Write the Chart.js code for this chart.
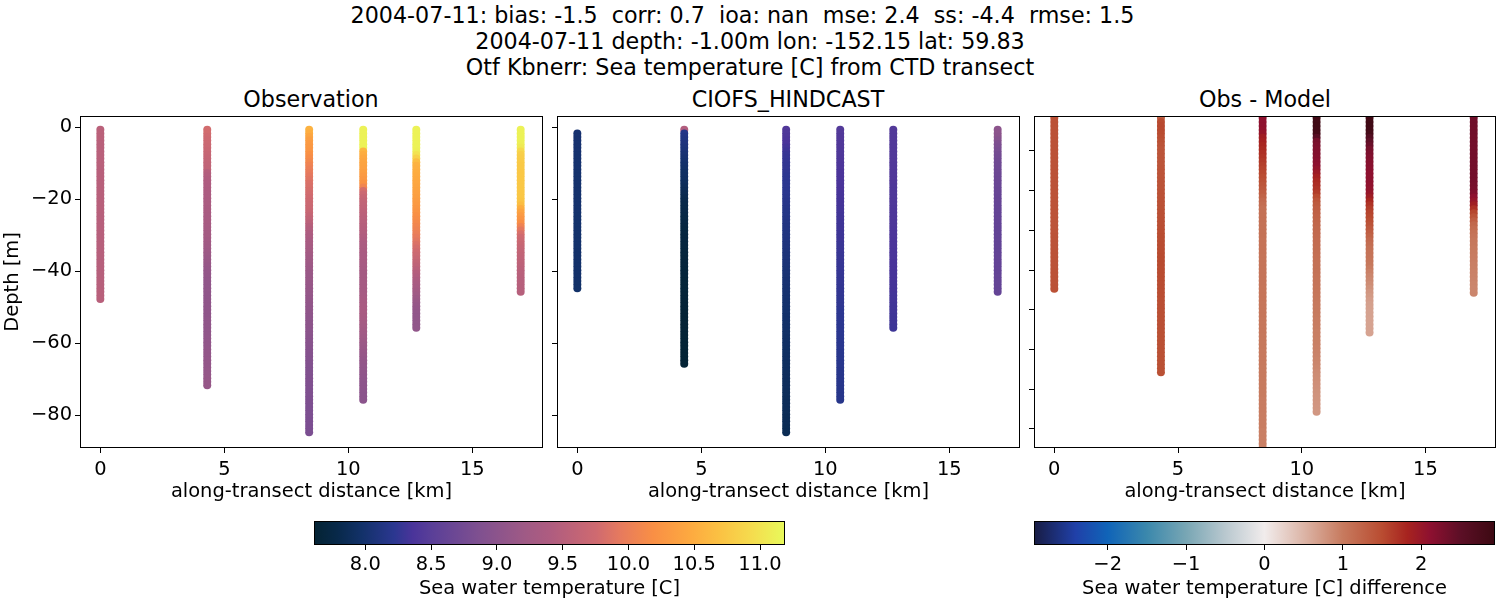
<!DOCTYPE html>
<html>
<head>
<meta charset="utf-8">
<script src="https://cdn.jsdelivr.net/npm/chart.js@4"></script>
<style>
  html, body { margin: 0; background: #fff; width: 1500px; height: 600px; overflow: hidden; }
  canvas { position: absolute; }
  .lbl { position: absolute; transform: translateX(-50%); font-family: 'DejaVu Sans', sans-serif; color: #000; white-space: pre; line-height: 1; }
  .sup { font-size: 22.22px; }
  .ttl { font-size: 22.22px; }
</style>
</head>
<body>
<div class="lbl sup" style="left:742.5px;top:4px">2004-07-11: bias: -1.5  corr: 0.7  ioa: nan  mse: 2.4  ss: -4.4  rmse: 1.5</div>
<div class="lbl sup" style="left:750px;top:30px">2004-07-11 depth: -1.00m lon: -152.15 lat: 59.83</div>
<div class="lbl sup" style="left:750px;top:56px">Otf Kbnerr: Sea temperature [C] from CTD transect</div>
<div class="lbl ttl" style="left:311px;top:88px">Observation</div>
<div class="lbl ttl" style="left:788px;top:88px">CIOFS_HINDCAST</div>
<div class="lbl ttl" style="left:1265px;top:88px">Obs - Model</div>

<canvas id="panelObs" style="left:0;top:110px"></canvas>
<canvas id="panelModel" style="left:552px;top:110px"></canvas>
<canvas id="panelDiff" style="left:1029px;top:110px"></canvas>
<canvas id="barTemp" style="left:309px;top:516px"></canvas>
<canvas id="barDiff" style="left:1029px;top:516px"></canvas>

<script>
const castKm = [0, 4.31, 8.42, 10.6, 12.74, 16.95];

const depthLevels = [
  -0.7,-1.7,-2.7,-3.7,-4.7,-5.7,-6.7,-7.7,-8.7,-9.7,
  -10.7,-11.7,-12.7,-13.7,-14.7,-15.7,-16.7,-17.7,-18.7,-19.7,
  -20.7,-21.7,-22.7,-23.7,-24.7,-25.7,-26.7,-27.7,-28.7,-29.7,
  -30.7,-31.7,-32.7,-33.7,-34.7,-35.7,-36.7,-37.7,-38.7,-39.7,
  -40.7,-41.7,-42.7,-43.7,-44.7,-45.7,-46.7,-47.7,-48.7,-49.7,
  -50.7,-51.7,-52.7,-53.7,-54.7,-55.7,-56.7,-57.7,-58.7,-59.7,
  -60.7,-61.7,-62.7,-63.7,-64.7,-65.7,-66.7,-67.7,-68.7,-69.7,
  -70.7,-71.7,-72.7,-73.7,-74.7,-75.7,-76.7,-77.7,-78.7,-79.7,
  -80.7,-81.7,-82.7,-83.7,-84.7
];

// temperature per depth level, one list per cast
const obs0 = [
  9.53,9.53,9.53,9.53,9.52,9.52,9.52,9.52,9.52,9.52,
  9.52,9.51,9.51,9.51,9.51,9.51,9.51,9.51,9.51,9.51,
  9.51,9.51,9.51,9.51,9.50,9.50,9.50,9.50,9.50,9.50,
  9.50,9.50,9.50,9.50,9.50,9.50,9.49,9.49,9.49,9.49,
  9.49,9.49,9.50,9.50,9.50,9.51,9.51,9.51];
const obs1 = [
  9.78,9.78,9.76,9.74,9.72,9.70,9.68,9.66,9.64,9.62,
  9.61,9.60,9.48,9.44,9.42,9.41,9.40,9.39,9.38,9.37,
  9.36,9.36,9.35,9.35,9.34,9.33,9.32,9.31,9.30,9.29,
  9.28,9.26,9.24,9.22,9.20,9.18,9.16,9.14,9.12,9.10,
  9.09,9.08,9.07,9.06,9.06,9.06,9.05,9.05,9.05,9.05,
  9.05,9.05,9.05,9.06,9.06,9.06,9.06,9.06,9.07,9.07,
  9.07,9.08,9.08,9.08,9.09,9.09,9.09,9.10,9.10,9.11,
  9.11,9.11];
const obs2 = [
  10.55,10.50,10.42,10.35,10.30,10.28,10.25,10.20,10.15,10.10,
  10.05,10.00,9.96,9.92,9.88,9.84,9.82,9.80,9.78,9.76,
  9.74,9.72,9.70,9.68,9.64,9.60,9.54,9.48,9.44,9.40,
  9.37,9.34,9.32,9.30,9.28,9.26,9.24,9.22,9.20,9.18,
  9.16,9.14,9.14,9.13,9.12,9.11,9.10,9.09,9.08,9.07,
  9.06,9.05,9.04,9.03,9.02,9.01,9.00,8.99,8.98,8.97,
  8.96,8.95,8.94,8.93,8.92,8.91,8.90,8.89,8.89,8.88,
  8.88,8.87,8.87,8.86,8.86,8.85,8.85,8.84,8.84,8.84,
  8.84,8.83,8.83,8.83,8.82];
const obs3 = [
  11.12,11.12,11.12,11.12,11.12,11.12,10.58,10.50,10.45,10.42,
  10.40,10.38,10.36,10.32,10.28,10.22,10.08,9.80,9.72,9.66,
  9.62,9.60,9.58,9.56,9.54,9.52,9.50,9.48,9.46,9.44,
  9.42,9.40,9.38,9.36,9.35,9.34,9.33,9.32,9.31,9.30,
  9.29,9.28,9.28,9.28,9.29,9.29,9.30,9.31,9.32,9.33,
  9.33,9.33,9.32,9.31,9.29,9.27,9.25,9.23,9.21,9.19,
  9.17,9.15,9.13,9.11,9.09,9.08,9.07,9.06,9.05,9.04,
  9.03,9.02,9.01,9.00,8.99,8.99];
const obs4 = [
  11.12,11.12,11.12,11.12,11.12,11.12,11.10,11.00,10.85,10.65,
  10.55,10.52,10.50,10.48,10.46,10.44,10.42,10.40,10.38,10.36,
  10.33,10.30,10.27,10.24,10.20,10.16,10.12,10.08,10.04,10.00,
  9.95,9.90,9.85,9.80,9.76,9.72,9.67,9.62,9.57,9.52,
  9.46,9.42,9.38,9.34,9.30,9.26,9.22,9.18,9.14,9.11,
  9.09,9.07,9.06,9.06,9.06,9.06];
const obs5 = [
  11.12,11.12,11.12,11.12,11.10,11.05,10.90,10.82,10.80,10.78,
  10.76,10.76,10.75,10.75,10.75,10.75,10.75,10.75,10.74,10.74,
  10.72,10.65,10.50,10.40,10.32,10.25,10.18,10.05,9.92,9.82,
  9.76,9.72,9.68,9.65,9.63,9.61,9.59,9.57,9.55,9.53,
  9.52,9.51,9.50,9.50,9.49,9.49];

const model0 = [
  null,8.02,8.02,8.02,8.02,8.02,8.02,8.01,8.01,8.01,
  8.01,8.01,8.00,8.00,8.00,8.00,8.00,8.00,8.00,8.00,
  8.00,8.00,8.00,8.00,7.99,7.99,7.99,7.99,7.99,7.99,
  7.99,7.99,7.99,7.99,7.98,7.98,7.98,7.98,7.98,7.98,
  7.98,7.98,7.98,7.97,7.97];
const model1 = [
  9.45,8.16,8.14,8.12,8.10,8.08,8.06,8.04,8.02,8.00,
  7.98,7.96,7.94,7.93,7.92,7.90,7.88,7.86,7.84,7.82,
  7.80,7.79,7.78,7.77,7.76,7.75,7.74,7.73,7.72,7.72,
  7.71,7.71,7.70,7.70,7.69,7.69,7.68,7.68,7.68,7.67,
  7.67,7.67,7.66,7.66,7.66,7.66,7.65,7.65,7.65,7.65,
  7.65,7.64,7.64,7.64,7.64,7.64,7.64,7.63,7.63,7.63,
  7.63,7.63,7.63,7.63,7.63,7.63];
const model2 = [
  8.42,8.41,8.40,8.38,8.36,8.33,8.30,8.28,8.27,8.26,
  8.25,8.25,8.24,8.23,8.23,8.22,8.22,8.21,8.21,8.20,
  8.19,8.18,8.17,8.16,8.16,8.15,8.14,8.13,8.13,8.12,
  8.12,8.11,8.10,8.10,8.09,8.08,8.08,8.07,8.06,8.05,
  8.05,8.04,8.03,8.03,8.02,8.02,8.01,8.01,8.00,8.00,
  7.99,7.99,7.98,7.98,7.97,7.97,7.96,7.96,7.95,7.95,
  7.95,7.94,7.94,7.93,7.93,7.92,7.92,7.92,7.91,7.91,
  7.90,7.90,7.90,7.89,7.89,7.88,7.88,7.88,7.87,7.87,
  7.86,7.86,7.86,7.85,7.85];
const model3 = [
  8.44,8.44,8.43,8.43,8.42,8.42,8.41,8.41,8.40,8.40,
  8.39,8.39,8.38,8.38,8.37,8.37,8.36,8.36,8.35,8.35,
  8.34,8.34,8.33,8.33,8.32,8.32,8.31,8.31,8.31,8.30,
  8.30,8.30,8.29,8.29,8.29,8.28,8.28,8.28,8.27,8.27,
  8.27,8.26,8.26,8.26,8.25,8.25,8.25,8.24,8.24,8.24,
  8.23,8.23,8.23,8.23,8.22,8.22,8.22,8.22,8.21,8.21,
  8.21,8.21,8.20,8.20,8.20,8.20,8.20,8.19,8.19,8.19,
  8.19,8.19,8.18,8.18,8.18,8.18];
const model4 = [
  8.44,8.44,8.44,8.44,8.43,8.43,8.43,8.43,8.43,8.43,
  8.42,8.42,8.42,8.42,8.42,8.42,8.41,8.41,8.41,8.41,
  8.41,8.41,8.40,8.40,8.40,8.40,8.40,8.40,8.39,8.39,
  8.39,8.38,8.38,8.38,8.37,8.37,8.37,8.36,8.36,8.36,
  8.35,8.35,8.35,8.34,8.34,8.34,8.33,8.33,8.33,8.32,
  8.32,8.32,8.31,8.31,8.31,8.30];
const model5 = [
  9.00,9.00,8.98,8.92,8.85,8.82,8.79,8.76,8.74,8.72,
  8.71,8.70,8.69,8.68,8.67,8.66,8.65,8.64,8.63,8.62,
  8.62,8.61,8.61,8.60,8.60,8.60,8.59,8.59,8.58,8.58,
  8.58,8.58,8.58,8.58,8.58,8.59,8.59,8.59,8.59,8.59,
  8.59,8.60,8.60,8.60,8.60,8.60];

const diff0 = [
  null,1.44,1.44,1.44,1.43,1.43,1.43,1.43,1.43,1.43,
  1.42,1.42,1.42,1.42,1.42,1.42,1.42,1.42,1.42,1.42,
  1.41,1.41,1.41,1.41,1.41,1.41,1.41,1.41,1.41,1.41,
  1.41,1.42,1.42,1.42,1.42,1.42,1.42,1.42,1.42,1.42,
  1.43,1.43,1.43,1.43,1.44];
const diff1 = [
  1.05,1.25,1.50,1.52,1.52,1.50,1.48,1.45,1.42,1.40,
  1.40,1.40,1.40,1.40,1.41,1.41,1.41,1.42,1.42,1.42,
  1.43,1.43,1.44,1.44,1.45,1.46,1.46,1.47,1.47,1.48,
  1.48,1.49,1.49,1.50,1.50,1.50,1.51,1.51,1.51,1.50,
  1.50,1.50,1.50,1.49,1.49,1.48,1.48,1.47,1.47,1.47,
  1.46,1.46,1.46,1.46,1.46,1.45,1.45,1.45,1.45,1.45,
  1.45,1.45,1.45,1.45,1.45,1.45];
const diff2 = [
  2.10,2.10,2.10,2.10,2.08,2.02,1.90,1.85,1.80,1.76,
  1.72,1.68,1.64,1.60,1.56,1.52,1.48,1.44,1.40,1.36,
  1.30,1.24,1.18,1.14,1.10,1.10,1.10,1.10,1.09,1.09,
  1.09,1.09,1.08,1.08,1.08,1.08,1.07,1.07,1.07,1.07,
  1.06,1.06,1.06,1.06,1.05,1.05,1.05,1.05,1.04,1.04,
  1.04,1.04,1.03,1.03,1.03,1.03,1.02,1.02,1.02,1.02,
  1.01,1.01,1.01,1.01,1.00,1.00,1.00,1.00,0.99,0.99,
  0.99,0.99,0.98,0.98,0.98,0.98,0.97,0.97,0.97,0.97,
  0.96,0.96,0.96,0.96,0.95];
const diff3 = [
  2.88,2.88,2.88,2.88,2.86,2.80,2.55,2.30,2.25,2.22,
  2.20,2.18,2.15,2.12,2.05,1.95,1.85,1.78,1.74,1.70,
  1.62,1.50,1.40,1.34,1.30,1.28,1.26,1.24,1.22,1.20,
  1.18,1.17,1.16,1.15,1.14,1.13,1.12,1.11,1.10,1.10,
  1.09,1.08,1.07,1.06,1.05,1.04,1.03,1.02,1.01,1.00,
  1.00,0.99,0.98,0.98,0.97,0.96,0.96,0.95,0.95,0.94,
  0.93,0.92,0.91,0.90,0.88,0.86,0.85,0.84,0.82,0.81,
  0.80,0.79,0.78,0.77,0.76,0.75];
const diff4 = [
  2.88,2.88,2.88,2.88,2.86,2.80,2.62,2.48,2.40,2.30,
  2.25,2.20,2.18,2.16,2.14,2.12,2.10,2.10,2.08,2.06,
  2.02,1.92,1.80,1.70,1.62,1.56,1.52,1.48,1.42,1.36,
  1.30,1.24,1.18,1.14,1.10,1.08,1.06,1.04,1.02,0.98,
  0.94,0.90,0.87,0.84,0.80,0.76,0.73,0.70,0.68,0.67,
  0.66,0.66,0.65,0.65,0.65,0.65];
const diff5 = [
  2.35,2.35,2.35,2.35,2.34,2.34,2.33,2.33,2.32,2.32,
  2.32,2.32,2.32,2.32,2.32,2.32,2.32,2.31,2.30,2.28,
  2.22,2.10,2.02,1.90,1.72,1.55,1.42,1.30,1.20,1.14,
  1.10,1.06,1.03,1.02,1.00,0.99,0.98,0.97,0.96,0.95,
  0.94,0.93,0.92,0.91,0.90,0.90];

const obsCasts   = [obs0, obs1, obs2, obs3, obs4, obs5];
const modelCasts = [model0, model1, model2, model3, model4, model5];
const diffCasts  = [diff0, diff1, diff2, diff3, diff4, diff5];

const xTicks      = [0, 5, 10, 15];
const yTicks      = [0, -20, -40, -60, -80];
const yTicksDiff  = [-10, -20, -30, -40, -50, -60, -70, -80];
const tempTicks   = [8.0, 8.5, 9.0, 9.5, 10.0, 10.5, 11.0];
const diffTicks   = [-2, -1, 0, 1, 2];

const tempRange = [7.61, 11.19];
const diffRange = [-2.94, 2.94];

const thermalColors = ['#042333','#08294a','#123168','#2b3790','#4a349a','#5a3f98','#7f5090','#a05a85','#ae5c80','#cf6a70','#e67a5e','#f98f45','#fdaa40','#fbc143','#f5dc4e','#e8fa5b'];
const thermalPos    = [0, 0.05, 0.1, 0.17, 0.21, 0.25, 0.35, 0.45, 0.5, 0.6, 0.65, 0.72, 0.8, 0.86, 0.93, 1];
const balanceColors = ['#181c43','#2040a8','#1064b8','#3b88ac','#78a6b4','#b9c8cf','#f1ecec','#dcb5a7','#c77a5e','#b94c31','#a7231f','#8d1030','#5c0f26','#3c0912'];
const balancePos    = [0, 0.09, 0.16, 0.245, 0.33, 0.415, 0.5, 0.585, 0.67, 0.755, 0.81, 0.86, 0.925, 1];

const FONT = 'DejaVu Sans';
const TEXT = 19.44;
Chart.defaults.font.family = FONT;
Chart.defaults.color = '#000';

function rgb(hex) {
  return [1, 3, 5].map(i => parseInt(hex.slice(i, i + 2), 16));
}

function pick(v, range, colors, pos) {
  const t = Math.min(1, Math.max(0, (v - range[0]) / (range[1] - range[0])));
  let i = 0;
  while (i < pos.length - 2 && t > pos[i + 1]) i++;
  const f = (t - pos[i]) / (pos[i + 1] - pos[i]);
  const a = rgb(colors[i]), b = rgb(colors[i + 1]);
  return 'rgb(' + a.map((c, k) => Math.round(c + (b[k] - c) * f)).join(',') + ')';
}

const minus = v => String(v).replace('-', '\u2212');

const frame = {
  id: 'frame',
  afterDraw(chart) {
    const a = chart.chartArea, c = chart.ctx;
    c.save();
    c.strokeStyle = '#000';
    c.lineWidth = 1;
    c.strokeRect(a.left + 0.5, a.top + 0.5, a.right - a.left - 1, a.bottom - a.top - 1);
    c.restore();
  }
};

function castSets(casts, range, colors, pos) {
  return casts.map((vals, i) => {
    const pts = [], cols = [];
    vals.forEach((v, k) => {
      if (v === null) return;
      pts.push({ x: castKm[i], y: depthLevels[k] });
      cols.push(pick(v, range, colors, pos));
    });
    return {
      data: pts, showLine: false, clip: 0,
      pointRadius: 4, pointBorderWidth: 0, pointBackgroundColor: cols
    };
  });
}

function panel(id, w, sets, opt) {
  const el = document.getElementById(id);
  el.width = w; el.height = 394;
  el.style.width = w + 'px'; el.style.height = '394px';
  return new Chart(el, {
    type: 'scatter',
    data: { datasets: sets },
    plugins: [frame],
    options: {
      responsive: false, animation: false, devicePixelRatio: 1,
      layout: { padding: { top: 6, right: opt.padRight, bottom: 0, left: 0 } },
      plugins: { legend: { display: false }, tooltip: { enabled: false } },
      scales: {
        x: {
          type: 'linear', min: -0.82, max: 17.85,
          afterBuildTicks: s => { s.ticks = xTicks.map(v => ({ value: v })); },
          afterFit: s => { s.height = 56; s.paddingLeft = 0; s.paddingRight = 0; },
          grid: { drawOnChartArea: false, tickLength: 5, tickColor: '#000', tickWidth: 1 },
          border: { display: false },
          ticks: { font: { size: TEXT }, padding: 5, maxRotation: 0, autoSkip: false },
          title: { display: true, text: 'along-transect distance [km]', font: { size: TEXT }, padding: { top: 0, bottom: 0 } }
        },
        y: {
          type: 'linear', min: opt.yMin, max: opt.yMax,
          afterBuildTicks: s => { s.ticks = opt.yTicks.map(v => ({ value: v })); },
          afterFit: s => { s.width = opt.yWidth; s.paddingTop = 0; s.paddingBottom = 0; },
          grid: { drawOnChartArea: false, tickLength: 5, tickColor: '#000', tickWidth: 1 },
          border: { display: false },
          ticks: { display: opt.showY, font: { size: TEXT }, padding: 3, callback: minus, autoSkip: false },
          title: { display: opt.showY, text: 'Depth [m]', font: { size: TEXT }, padding: 1 }
        }
      }
    }
  });
}

function colorbar(id, w, range, ticks, colors, pos, label, fmt) {
  const el = document.getElementById(id);
  el.width = w; el.height = 85;
  el.style.width = w + 'px'; el.style.height = '85px';
  const fill = {
    id: 'fill',
    beforeDatasetsDraw(chart) {
      const a = chart.chartArea, c = chart.ctx;
      const g = c.createLinearGradient(a.left, 0, a.right, 0);
      colors.forEach((col, i) => g.addColorStop(pos[i], col));
      c.fillStyle = g;
      c.fillRect(a.left, a.top, a.right - a.left, a.bottom - a.top);
    }
  };
  return new Chart(el, {
    type: 'scatter',
    data: { datasets: [{ data: [] }] },
    plugins: [fill, frame],
    options: {
      responsive: false, animation: false, devicePixelRatio: 1,
      layout: { padding: { top: 5, right: 5, bottom: 0, left: 5 } },
      plugins: { legend: { display: false }, tooltip: { enabled: false } },
      scales: {
        y: { display: false, min: 0, max: 1 },
        x: {
          type: 'linear', min: range[0], max: range[1],
          afterBuildTicks: s => { s.ticks = ticks.map(v => ({ value: v })); },
          afterFit: s => { s.height = 56; s.paddingLeft = 0; s.paddingRight = 0; },
          grid: { drawOnChartArea: false, tickLength: 5, tickColor: '#000', tickWidth: 1 },
          border: { display: false },
          ticks: { font: { size: TEXT }, padding: 3, maxRotation: 0, autoSkip: false, callback: fmt },
          title: { display: true, text: label, font: { size: TEXT }, padding: { top: 0, bottom: 0 } }
        }
      }
    }
  });
}

panel('panelObs', 548, castSets(obsCasts, tempRange, thermalColors, thermalPos),
  { padRight: 5, yMin: -89.1, yMax: 3.14, yTicks: yTicks, yWidth: 80, showY: true });
panel('panelModel', 473, castSets(modelCasts, tempRange, thermalColors, thermalPos),
  { padRight: 5, yMin: -89.1, yMax: 3.14, yTicks: yTicks, yWidth: 5, showY: false });
panel('panelDiff', 471, castSets(diffCasts, diffRange, balanceColors, balancePos),
  { padRight: 3, yMin: -84.8, yMax: -1.2, yTicks: yTicksDiff, yWidth: 5, showY: false });

colorbar('barTemp', 481, tempRange, tempTicks, thermalColors, thermalPos, 'Sea water temperature [C]', v => v.toFixed(1));
colorbar('barDiff', 471, diffRange, diffTicks, balanceColors, balancePos, 'Sea water temperature [C] difference', minus);
</script>
</body>
</html>
